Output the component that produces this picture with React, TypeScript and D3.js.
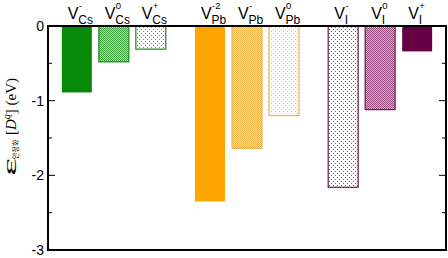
import React from "react";
import * as d3 from "d3";

const species = ["Cs", "Cs", "Cs", "Pb", "Pb", "Pb", "I", "I", "I"];
const charges = ["-", "0", "+", "-2", "-", "0", "-", "0", "+"];
const values = [-0.89, -0.48, -0.31, -2.35, -1.64, -1.2, -2.16, -1.12, -0.34];
const fillKinds = ["solid", "dense", "sparse", "solid", "dense", "sparse", "sparse", "dense", "solid"];
const groupNames = ["Cs", "Pb", "I"];
const yTicks = [0, -1, -2, -3];
const yMinorTicks = [-0.5, -1.5, -2.5];

const W = 448;
const H = 258;
const frame = { left: 48, right: 446, top: 26, bottom: 250 };

const colors: Record<string, { main: string; dot: string; light: string; border: string }> = {
  Cs: { main: "#078a07", dot: "#3fa33f", light: "#a8dca8", border: "#1a8a1a" },
  Pb: { main: "#ffa500", dot: "#f3b445", light: "#fcdfa8", border: "#efb44a" },
  I: { main: "#650143", dot: "#9a4d80", light: "#d7a9c8", border: "#6a1a4a" },
};

export default function App() {
  // bar positions in x units: member index within group plus a gap between groups
  const xPos = species.map((s, i) => groupNames.indexOf(s) * 3.6 + (i % 3) + 0.78);
  const x = d3.scaleLinear().domain([0, 10.76]).range([frame.left, frame.right]);
  const y = d3.scaleLinear().domain([-3, 0]).range([frame.bottom, frame.top]);
  const barW = x(0.81) - x(0);

  return (
    <svg
      width={W}
      height={H}
      style={{ position: "absolute", left: 0, top: 0, background: "#fff" }}
      fontFamily="'Liberation Sans', Arial, sans-serif"
    >
      <defs>
        {groupNames.map((g) => (
          <React.Fragment key={g}>
            <pattern id={`dense-${g}`} width={2} height={2} patternUnits="userSpaceOnUse">
              <rect width={2} height={2} fill={colors[g].light} />
              <rect x={0} y={0} width={1} height={1} fill={colors[g].dot} />
              <rect x={1} y={1} width={1} height={1} fill={colors[g].dot} />
            </pattern>
            <pattern id={`sparse-${g}`} width={4} height={4} patternUnits="userSpaceOnUse">
              <rect width={4} height={4} fill="#fff" />
              <rect x={1} y={1} width={1} height={1} fill={colors[g].main} opacity={0.75} />
              <rect x={3} y={3} width={1} height={1} fill={colors[g].main} opacity={0.75} />
            </pattern>
          </React.Fragment>
        ))}
      </defs>

      {/* bars */}
      {values.map((v, i) => {
        const g = species[i];
        const kind = fillKinds[i];
        const fill = kind === "solid" ? colors[g].main : `url(#${kind}-${g})`;
        const cx = x(xPos[i]);
        return (
          <rect
            key={i}
            x={cx - barW / 2}
            y={y(0)}
            width={barW}
            height={y(v) - y(0)}
            fill={fill}
            stroke={kind === "solid" ? "none" : colors[g].border}
            strokeWidth={1.2}
          />
        );
      })}

      {/* frame */}
      <rect
        x={frame.left}
        y={frame.top}
        width={frame.right - frame.left}
        height={frame.bottom - frame.top}
        fill="none"
        stroke="#000"
        strokeWidth={2}
      />

      {/* y ticks */}
      {yTicks.map((t) => (
        <g key={t}>
          <line x1={frame.left} x2={frame.left + 7} y1={y(t)} y2={y(t)} stroke="#000" strokeWidth={1} />
          <line x1={frame.right} x2={frame.right - 7} y1={y(t)} y2={y(t)} stroke="#000" strokeWidth={1} />
          <text x={44} y={y(t) + 5} textAnchor="end" fontSize={14} fill="#000">
            {t === 0 ? "0" : `-${Math.abs(t)}`}
          </text>
        </g>
      ))}
      {yMinorTicks.map((t) => (
        <g key={t}>
          <line x1={frame.left} x2={frame.left + 4} y1={y(t)} y2={y(t)} stroke="#000" strokeWidth={1} />
          <line x1={frame.right} x2={frame.right - 4} y1={y(t)} y2={y(t)} stroke="#000" strokeWidth={1} />
        </g>
      ))}

      {/* category labels */}
      {species.map((s, i) => {
        const x0 = x(xPos[i]) - 9;
        return (
          <g key={i} fill="#000">
            <text x={x0} y={19} fontSize={16}>V</text>
            <text x={x0 + 10.5} y={24} fontSize={12}>{s}</text>
            <text x={x0 + 11} y={9} fontSize={9.5}>{charges[i]}</text>
          </g>
        );
      })}

      {/* y axis label */}
      <g transform="translate(16,176) rotate(-90)" fill="#000" fontFamily="'Liberation Serif', 'Times New Roman', serif">
        <text x={0} y={0} fontSize={19} textLength={18} lengthAdjust="spacingAndGlyphs">ε</text>
        <text x={17} y={2} fontSize={7} fontFamily="'Noto Sans CJK KR', sans-serif">안정화</text>
        <text x={41} y={0} fontSize={15}>
          <tspan>[</tspan>
          <tspan fontStyle="italic">D</tspan>
          <tspan fontStyle="italic" fontSize={10} dy={-6}>q</tspan>
          <tspan dy={6}>] (eV)</tspan>
        </text>
      </g>
    </svg>
  );
}
